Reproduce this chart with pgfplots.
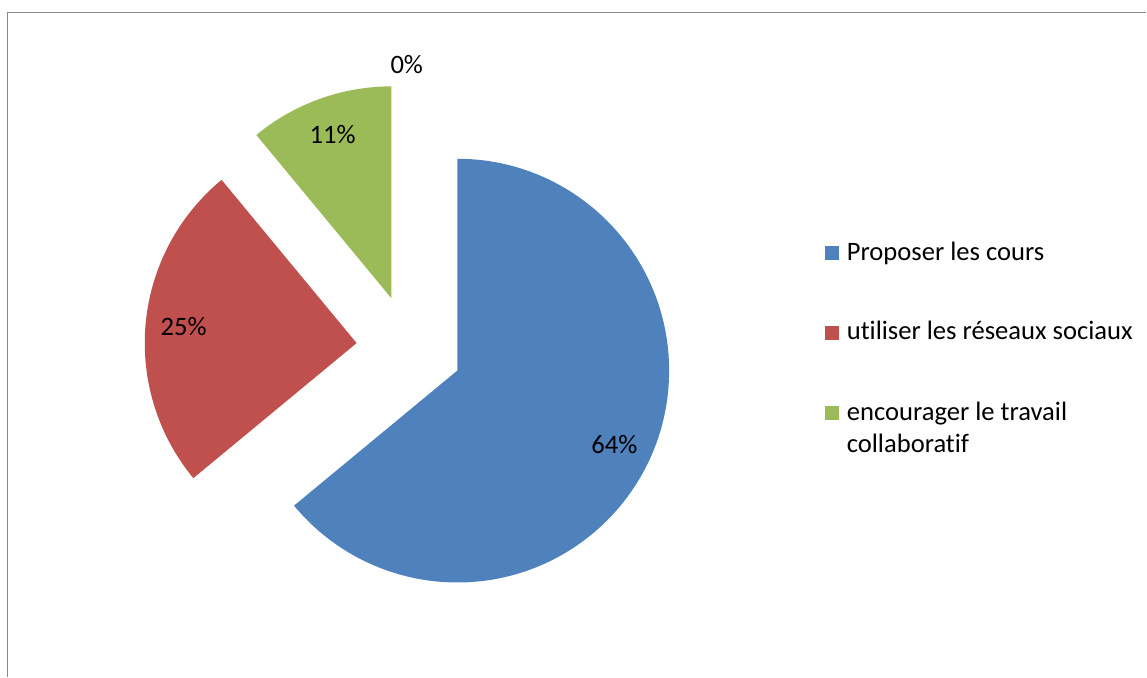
\documentclass[border=0pt]{standalone}
\usepackage{pgfplots}
\usepackage{pgfplotstable}
\pgfplotsset{compat=1.18}
\usepackage{fontspec}
\setmainfont{Carlito}[Ligatures={NoCommon}]

\definecolor{cBlue}{HTML}{4F81BD}
\definecolor{cRed}{HTML}{C0504D}
\definecolor{cGreen}{HTML}{9BBB59}
\definecolor{frame}{HTML}{898989}

% shares in percent
\pgfplotstableread{
share
64
25
11
0
}\piedata

\pgfplotstablegetelem{0}{share}\of\piedata \edef\sA{\pgfplotsretval}
\pgfplotstablegetelem{1}{share}\of\piedata \edef\sB{\pgfplotsretval}
\pgfplotstablegetelem{2}{share}\of\piedata \edef\sC{\pgfplotsretval}

\pgfmathsetmacro\aA{90}
\pgfmathsetmacro\aB{\aA-3.6*\sA}
\pgfmathsetmacro\aC{\aB-3.6*\sB}
\pgfmathsetmacro\aD{\aC-3.6*\sC}

% pie centre, explode distance, radius (axis units = px)
\def\cx{409.6}
\def\cy{328.7}
\def\ex{53}
\def\Ru{212}

\newcommand\pieslice[4]{%
  \pgfmathsetmacro\m{(#2+#3)/2}%
  \pgfmathsetmacro\px{\cx+\ex*cos(\m)}%
  \pgfmathsetmacro\py{\cy+\ex*sin(\m)}%
  \pgfmathsetmacro\lx{\px+0.82*\Ru*cos(\m)}%
  \pgfmathsetmacro\ly{\py+0.82*\Ru*sin(\m)}%
  \edef\temp{%
    \noexpand\fill[#1] (axis cs:\px,\py) -- ++(#2:\Ru*0.5pt)
      arc[start angle=#2, end angle=#3, radius=\Ru*0.5pt] -- cycle;
    \noexpand\node[font=\noexpand\lbl] at (axis cs:\lx,\ly) {#4\noexpand\%};}%
  \temp}

\newcommand\lbl{\fontsize{13.3}{16}\selectfont}

\begin{document}
\begin{tikzpicture}
\begin{axis}[
    x=0.5pt, y=0.5pt,
    xmin=0, xmax=1147, ymin=0, ymax=677,
    scale only axis,
    hide axis,
    clip=false,
  ]
  \path (axis cs:0,0) rectangle (axis cs:1147,677);
  \draw[frame, line width=0.75pt] (axis cs:7.5,0) -- (axis cs:7.5,664.3) -- (axis cs:1147,664.3);

  \pieslice{cBlue}{\aA}{\aB}{\sA}
  \pieslice{cRed}{\aB}{\aC}{\sB}
  \pieslice{cGreen}{\aC}{\aD}{\sC}
  \node[font=\lbl] at (axis cs:407,612) {0\%};

  % legend
  \fill[cBlue]  (axis cs:825.5,417) rectangle (axis cs:839.5,431);
  \fill[cRed]   (axis cs:825.5,336.3) rectangle (axis cs:839.5,350.3);
  \fill[cGreen] (axis cs:825.5,256.3) rectangle (axis cs:839.5,270.3);
  \node[font=\lbl, anchor=base west, inner sep=0pt] at (axis cs:847,416) {Proposer les cours};
  \node[font=\lbl, anchor=base west, inner sep=0pt] at (axis cs:847,337) {utiliser les réseaux sociaux};
  \node[font=\lbl, anchor=base west, inner sep=0pt] at (axis cs:847,256.3) {encourager le travail};
  \node[font=\lbl, anchor=base west, inner sep=0pt] at (axis cs:847,224.3) {collaboratif};
\end{axis}
\end{tikzpicture}
\end{document}
